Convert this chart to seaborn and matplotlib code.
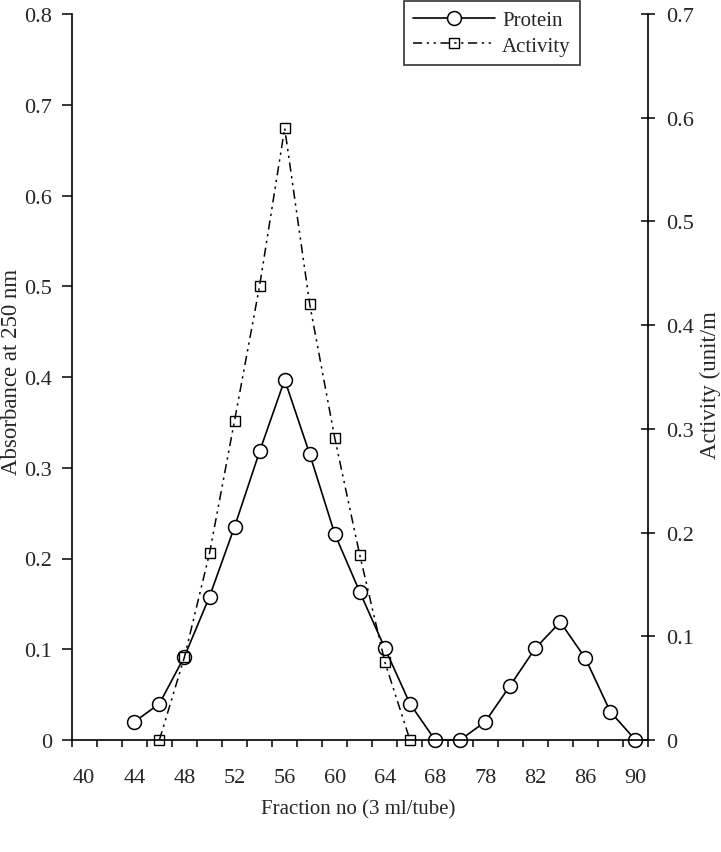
import numpy as np
import pandas as pd
import matplotlib
matplotlib.use('Agg')
import matplotlib.pyplot as plt
import seaborn as sns
from matplotlib.lines import Line2D

# Fraction categories (Excel category axis, labels on every other one)
fractions = [40, 42, 44, 46, 48, 50, 52, 54, 56, 58, 60, 62, 64, 66, 68,
             76, 78, 80, 82, 84, 86, 88, 90]

# Absorbance at 250 nm (left axis)
protein = [np.nan, np.nan, 0.02, 0.04, 0.092, 0.158, 0.235, 0.318, 0.397,
           0.315, 0.227, 0.163, 0.101, 0.04, 0.0,
           0.0, 0.02, 0.06, 0.101, 0.13, 0.09, 0.031, 0.0]

# Activity (right axis)
activity = [np.nan, np.nan, np.nan, 0.0, 0.08, 0.18, 0.308, 0.438, 0.59,
            0.42, 0.291, 0.178, 0.075, 0.0, np.nan,
            np.nan, np.nan, np.nan, np.nan, np.nan, np.nan, np.nan, np.nan]

df = pd.DataFrame({'fraction': fractions, 'protein': protein, 'activity': activity})
df['pos'] = np.arange(len(df))

sns.set_style('ticks')
plt.rcParams['font.family'] = ['Liberation Serif', 'DejaVu Serif']

fig = plt.figure(figsize=(7.21, 8.53), dpi=100)
ax = fig.add_axes([71.7 / 721, 1 - 741 / 853, (648 - 71.7) / 721, 726 / 853])
ax2 = ax.twinx()

dashdotdot = (0, (6, 3, 1.5, 3, 1.5, 3))

sns.lineplot(data=df, x='pos', y='protein', ax=ax, color='black', linewidth=1.2,
             marker='o', markersize=10, markerfacecolor='white',
             markeredgecolor='black', markeredgewidth=1.1, legend=False,
             clip_on=False)
sns.lineplot(data=df, x='pos', y='activity', ax=ax2, color='black', linewidth=1.1,
             linestyle=dashdotdot,
             marker='s', markersize=7, markerfacecolor='none',
             markeredgecolor='black', markeredgewidth=1.0, legend=False,
             clip_on=False)

n = len(fractions)
ax.set_xlim(-0.5, n - 0.5)
ax.set_ylim(0, 0.8)
ax2.set_ylim(0, 0.7)

# tick marks on category boundaries, labels centred on every other category
ax.set_xticks(np.arange(-0.5, n, 1.0))
ax.set_xticklabels([])
ax.set_xticks(np.arange(0, n, 2), minor=True)
ax.set_xticklabels([str(f) for f in fractions[::2]], minor=True)
ax.tick_params(axis='x', which='major', direction='out', length=5, width=1.1,
               color='black')
ax.tick_params(axis='x', which='minor', length=0, pad=20, labelsize=16)

left_ticks = np.round(np.arange(0, 0.81, 0.1), 1)
ax.set_yticks(left_ticks)
ax.set_yticklabels(['0'] + [f'{v:.1f}' for v in left_ticks[1:]])
ax.tick_params(axis='y', direction='out', length=7, width=1.1, pad=7,
               labelsize=16, color='black')

right_ticks = np.round(np.arange(0, 0.71, 0.1), 1)
ax2.set_yticks(right_ticks)
ax2.set_yticklabels(['0'] + [f'{v:.1f}' for v in right_ticks[1:]])
ax2.tick_params(axis='y', direction='inout', length=10, width=1.1, pad=8,
                labelsize=16, color='black')

for a in (ax, ax2):
    a.set_xlabel('')
    a.set_ylabel('')
    a.spines['top'].set_visible(False)
    for s in ('left', 'right', 'bottom'):
        a.spines[s].set_linewidth(1.2)
        a.spines[s].set_color('black')
ax.spines['right'].set_visible(False)
ax2.spines['left'].set_visible(False)
ax2.spines['bottom'].set_visible(False)

fig.text(0.4965, 0.0505, 'Fraction no (3 ml/tube)', ha='center', va='center',
         fontsize=15)
fig.text(0.0166, 0.5639, 'Absorbance at 250 nm', ha='center', va='center',
         rotation=90, fontsize=16.5)
fig.text(0.9847, 0.5486, 'Activity (unit/m', ha='center', va='center',
         rotation=90, fontsize=16.5)

handles = [
    Line2D([], [], color='black', linewidth=1.2, marker='o', markersize=10,
           markerfacecolor='white', markeredgecolor='black', markeredgewidth=1.1),
    Line2D([], [], color='black', linewidth=1.1, linestyle=dashdotdot,
           marker='s', markersize=7, markerfacecolor='none',
           markeredgecolor='black', markeredgewidth=1.0),
]
leg = ax2.legend(handles, ['Protein', 'Activity'], loc='upper right',
                 bbox_to_anchor=(0.882, 1.018), frameon=True, fancybox=False,
                 edgecolor='black', fontsize=15, handlelength=3.9,
                 handletextpad=0.35, borderpad=0.45, labelspacing=0.3,
                 borderaxespad=0)
leg.get_frame().set_linewidth(1.2)
leg.set_zorder(10)

fig.savefig('out.png', dpi=100, facecolor='white')
